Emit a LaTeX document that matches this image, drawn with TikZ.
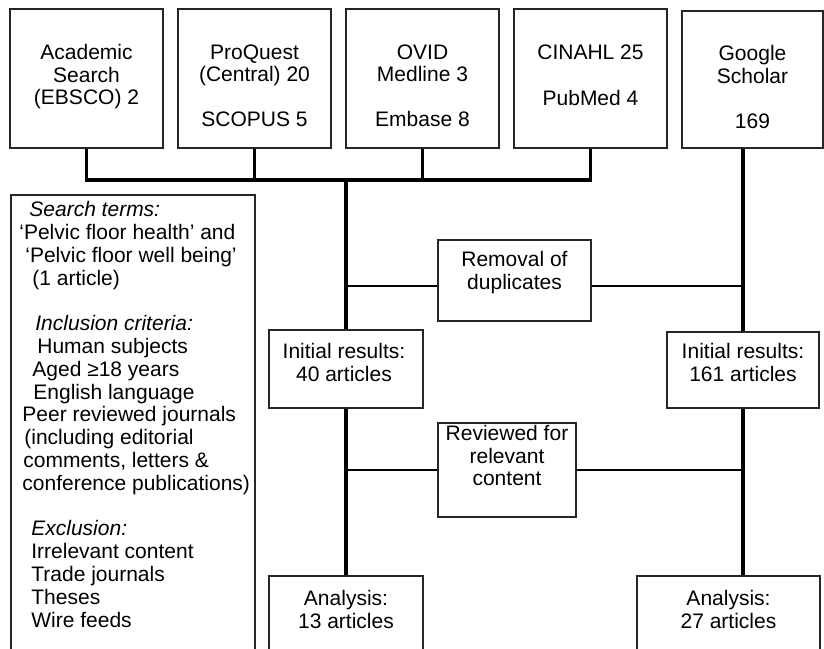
\documentclass[tikz,border=0pt]{standalone}
\usepackage{fontspec}
\setmainfont{Liberation Sans}
\usetikzlibrary{positioning}

\tikzset{
  pbox/.style={draw=black!85, line width=0.6pt, inner sep=0pt},
  txt/.style={align=center, inner sep=0pt, anchor=north, font=\fontsize{10.5}{11.3}\selectfont},
  link/.style={line width=1.6pt},
  hlink/.style={line width=1.3pt},
}

\begin{document}
\begin{tikzpicture}[x=0.5pt,y=0.5pt]
  \useasboundingbox (0,0) rectangle (824,-648);
  \clip (0,0) rectangle (824,-648);
  % databases
  \foreach \nm/\cx/\lbl in {acad/86.5/{Academic\\Search\\(EBSCO) 2},
                            pq/254.5/{ProQuest\\(Central) 20\\[11.3pt]SCOPUS 5},
                            ovid/422.5/{OVID\\Medline 3\\[11.3pt]Embase 8},
                            cin/590.5/{CINAHL 25\\[12pt]PubMed 4}} {
    \node[pbox, minimum width=76.5pt, minimum height=69.5pt] (\nm) at (\cx,-78.5) {};
    \node[txt] (\nm-t) at (\cx,-44) {\lbl};
  }
  \node[pbox, minimum width=70.5pt, minimum height=68.5pt] (gs) at (752.5,-79.5) {};
  \node[txt] (gs-t) at (752.5,-45) {Google\\Scholar\\[11.5pt]169};
  % criteria
  \node[pbox, minimum width=122pt, minimum height=227.5pt] (criteria) at (133,-422.5) {};
  \node[txt, anchor=north west, align=left, font=\fontsize{10.5}{11.4}\selectfont] (criteria-t) at (19,-201) {%
    \hspace*{5pt}\textit{Search terms:}\\
    ‘Pelvic floor health’ and\\
    \hspace*{3pt}‘Pelvic floor well being’\\
    \hspace*{6.5pt}(1 article)\\[11.4pt]
    \hspace*{8pt}\textit{Inclusion criteria:}\\
    \hspace*{9pt}Human subjects\\
    \hspace*{6.5pt}Aged ≥18 years\\
    \hspace*{7pt}English language\\
    \hspace*{1.5pt}Peer reviewed journals\\
    \hspace*{2.5pt}(including editorial\\
    \hspace*{2pt}comments, letters \&\\
    \hspace*{1.5pt}conference publications)\\[11.4pt]
    \hspace*{6pt}\textit{Exclusion:}\\
    \hspace*{6pt}Irrelevant content\\
    \hspace*{6pt}Trade journals\\
    \hspace*{6pt}Theses\\
    \hspace*{6pt}Wire feeds};
  % steps
  \node[pbox, minimum width=76.5pt, minimum height=40.5pt] (remove) at (514.5,-280.5) {};
  \node[txt] (remove-t) at (514.5,-251) {Removal of\\duplicates};
  \node[pbox, minimum width=77pt, minimum height=39pt] (initA) at (346,-369) {};
  \node[txt] (initA-t) at (344,-343) {Initial results:\\40 articles};
  \node[pbox, minimum width=76pt, minimum height=38pt] (initB) at (743,-370) {};
  \node[txt] (initB-t) at (743,-343) {Initial results:\\161 articles};
  \node[pbox, minimum width=69pt, minimum height=47pt] (review) at (507,-470) {};
  \node[txt] (review-t) at (507,-425) {Reviewed for\\relevant\\content};
  \node[pbox, minimum width=77pt, minimum height=37pt] (anaA) at (346,-613) {};
  \node[txt] (anaA-t) at (346,-590) {Analysis:\\13 articles};
  \node[pbox, minimum width=91.5pt, minimum height=37pt] (anaB) at (728.5,-613) {};
  \node[txt] (anaB-t) at (728.5,-590) {Analysis:\\27 articles};
  % connectors
  \coordinate (bus) at (346,-180);
  \coordinate (dupl) at (0,-286);
  \draw[link] (acad.south) |- (cin.south |- bus) -- (cin.south);
  \foreach \nm in {pq,ovid} {
    \draw[link] (\nm.south) -- (\nm.south |- bus);
  }
  \draw[link] (bus) -- (initA.north);
  \draw[link] (initA.south) -- (anaA.north);
  \draw[link] (gs.south -| initB.north) -- (initB.north);
  \draw[link] (initB.south) -- (initB.south |- anaB.north);
  \draw[hlink] (bus |- dupl) -- (remove.west |- dupl);
  \draw[hlink] (remove.east |- dupl) -- (initB.north |- dupl);
  \draw[hlink] (initA.south |- review.west) -- (review.west);
  \draw[hlink] (review.east) -- (initB.south |- review.east);
\end{tikzpicture}
\end{document}
